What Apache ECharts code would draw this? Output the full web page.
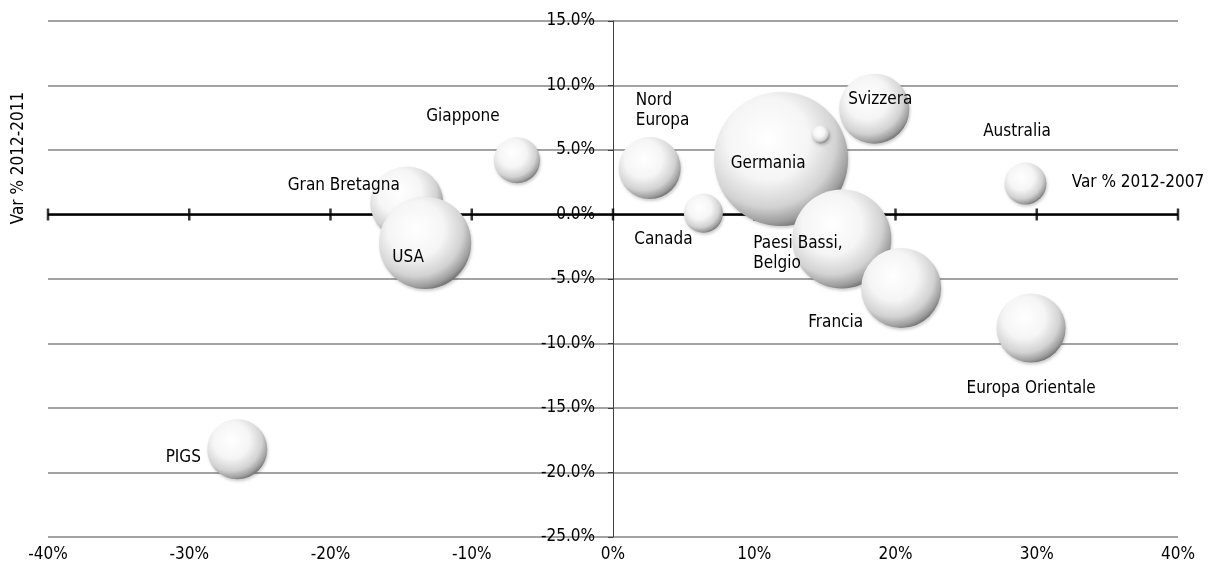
<!DOCTYPE html>
<html>
<head>
<meta charset="utf-8">
<script src="https://cdn.jsdelivr.net/npm/echarts@6/dist/echarts.min.js"></script>
<style>
html,body{margin:0;padding:0;background:#fff;}
#chart{width:1221px;height:577px;}
</style>
</head>
<body>
<div id="chart"></div>
<script>
// ---- data ----
var names = ['PIGS', 'Gran Bretagna', 'USA', 'Giappone', 'Nord\nEuropa', 'Canada', 'Germania', '', 'Svizzera', 'Paesi Bassi,\nBelgio', 'Francia', 'Europa Orientale', 'Australia'];
var var20122007 = [-26.6, -14.6, -13.3, -6.8, 2.6, 6.4, 11.9, 14.7, 18.5, 16.2, 20.4, 29.6, 29.2];
var var20122011 = [-18.2, 0.9, -2.2, 4.2, 3.6, 0.1, 4.3, 6.2, 8.2, -1.9, -5.7, -8.8, 2.4];
var bubbleSize = [9.0, 13.3, 21.2, 5.3, 9.6, 3.8, 44.9, 0.8, 12.3, 24.5, 16.0, 11.9, 4.4];
var xTicks = [-40, -30, -20, -10, 0, 10, 20, 30, 40];
var xAxisTitle = 'Var % 2012-2007';
var yAxisTitle = 'Var % 2012-2011';

// ---- label placement (style, kept apart from data) ----
var labelOffsets = [[-54, 8], [-63, -17], [-17, 14.5], [-54, -44], [-14, -57], [-40, 26.5], [-13, 5], [0, 0], [6, -9.5], [-88.5, 14.5], [-65.5, 34.5], [0, 60.5], [-8.5, -52]];
var labelAlign = ['center', 'center', 'center', 'center', 'left', 'center', 'center', 'center', 'center', 'left', 'center', 'center', 'center'];

// ---- layout ----
var W = 1221, GL = 48, GR = 43, GT = 21, GB = 40;
var XMIN = -40, XMAX = 40;
var gridW = W - GL - GR;
var yAxisOffset = -gridW * (0 - XMIN) / (XMAX - XMIN);

// ---- font choice: narrow sans if available ----
function hasFont(name) {
  var c = document.createElement('canvas').getContext('2d');
  var t = 'Europa Orientale 2012-2007 %';
  c.font = '40px monospace';
  var a = c.measureText(t).width;
  c.font = "40px '" + name + "', monospace";
  var b = c.measureText(t).width;
  return Math.abs(a - b) > 0.5;
}
var cands = ['Liberation Sans Narrow', 'Arial Narrow', 'DejaVu Sans Condensed', 'Liberation Sans'];
var FONT = 'sans-serif';
for (var i = 0; i < cands.length; i++) { if (hasFont(cands[i])) { FONT = cands[i]; break; } }
var FS = (function () {
  var c = document.createElement('canvas').getContext('2d');
  c.font = "21px '" + FONT + "'";
  var w = c.measureText('Europa Orientale').width;
  return Math.max(15, Math.min(23, Math.round(21 * 131 / w * 2) / 2));
})();

var sphere = new echarts.graphic.RadialGradient(0.4, 0.35, 0.68, [
  { offset: 0, color: '#ffffff' },
  { offset: 0.45, color: '#f5f5f5' },
  { offset: 0.75, color: '#d2d2d2' },
  { offset: 0.92, color: '#9c9c9c' },
  { offset: 1, color: '#707070' }
]);

var bubbles = names.map(function (n, k) {
  return {
    name: n,
    value: [var20122007[k], var20122011[k], bubbleSize[k]],
    label: { show: n !== '', position: 'inside', align: labelAlign[k] }
  };
});

var chart = echarts.init(document.getElementById('chart'), null, { renderer: 'canvas' });
chart.setOption({
  animation: false,
  backgroundColor: '#ffffff',
  textStyle: { fontFamily: FONT },
  grid: { left: GL, right: GR, top: GT, bottom: GB, containLabel: false, outerBoundsMode: 'none' },
  xAxis: {
    type: 'value', min: XMIN, max: XMAX, interval: 10,
    position: 'bottom',
    axisLine: { show: false, onZero: false },
    axisTick: { show: false },
    splitLine: { show: false },
    axisLabel: { color: '#000', fontSize: FS, fontFamily: FONT, margin: 9, formatter: function (v) { return v + '%'; } }
  },
  yAxis: {
    type: 'value', min: -25, max: 15, interval: 5,
    position: 'left', offset: yAxisOffset,
    axisLine: { show: true, onZero: false, lineStyle: { color: '#404040', width: 1 } },
    axisTick: { show: true, length: 5, lineStyle: { color: '#404040', width: 1 } },
    splitLine: { show: true, lineStyle: { color: '#858585', width: 1.5 } },
    axisLabel: { color: '#000', fontSize: FS, fontFamily: FONT, margin: 18, formatter: function (v) { return v.toFixed(1) + '%'; } }
  },
  graphic: [
    { type: 'text', x: 19, y: 158, rotation: Math.PI / 2, z: 10,
      style: { text: yAxisTitle, fill: '#000', font: FS + "px '" + FONT + "'", align: 'center', verticalAlign: 'middle' } },
    { type: 'text', x: 1138, y: 183, z: 10,
      style: { text: xAxisTitle, fill: '#000', font: FS + "px '" + FONT + "'", align: 'center', verticalAlign: 'middle' } }
  ],
  series: [
    {
      name: 'zeroAxis', type: 'scatter', silent: true, z: 3,
      symbol: 'rect', symbolSize: [2.5, 12],
      itemStyle: { color: '#000' },
      data: xTicks.map(function (t) { return [t, 0]; }),
      markLine: {
        silent: true, symbol: 'none', label: { show: false },
        lineStyle: { color: '#000', width: 2.5, type: 'solid' },
        data: [{ yAxis: 0 }]
      }
    },
    {
      name: 'bubbles', type: 'scatter', z: 5,
      symbol: 'circle',
      symbolSize: function (v) { return Math.sqrt(v[2]) * 20; },
      itemStyle: { color: sphere, opacity: 1, shadowBlur: 3, shadowColor: 'rgba(0,0,0,0.2)', shadowOffsetX: 1, shadowOffsetY: 2 },
      label: {
        show: true, color: '#000', fontSize: FS, fontFamily: FONT, lineHeight: Math.round(FS * 1.17),
        formatter: function (p) { return p.name; }
      },
      labelLayout: function (p) {
        var o = labelOffsets[p.dataIndex];
        return { dx: o[0], dy: o[1], hideOverlap: false };
      },
      emphasis: { disabled: true },
      data: bubbles
    }
  ]
});
</script>
</body>
</html>
